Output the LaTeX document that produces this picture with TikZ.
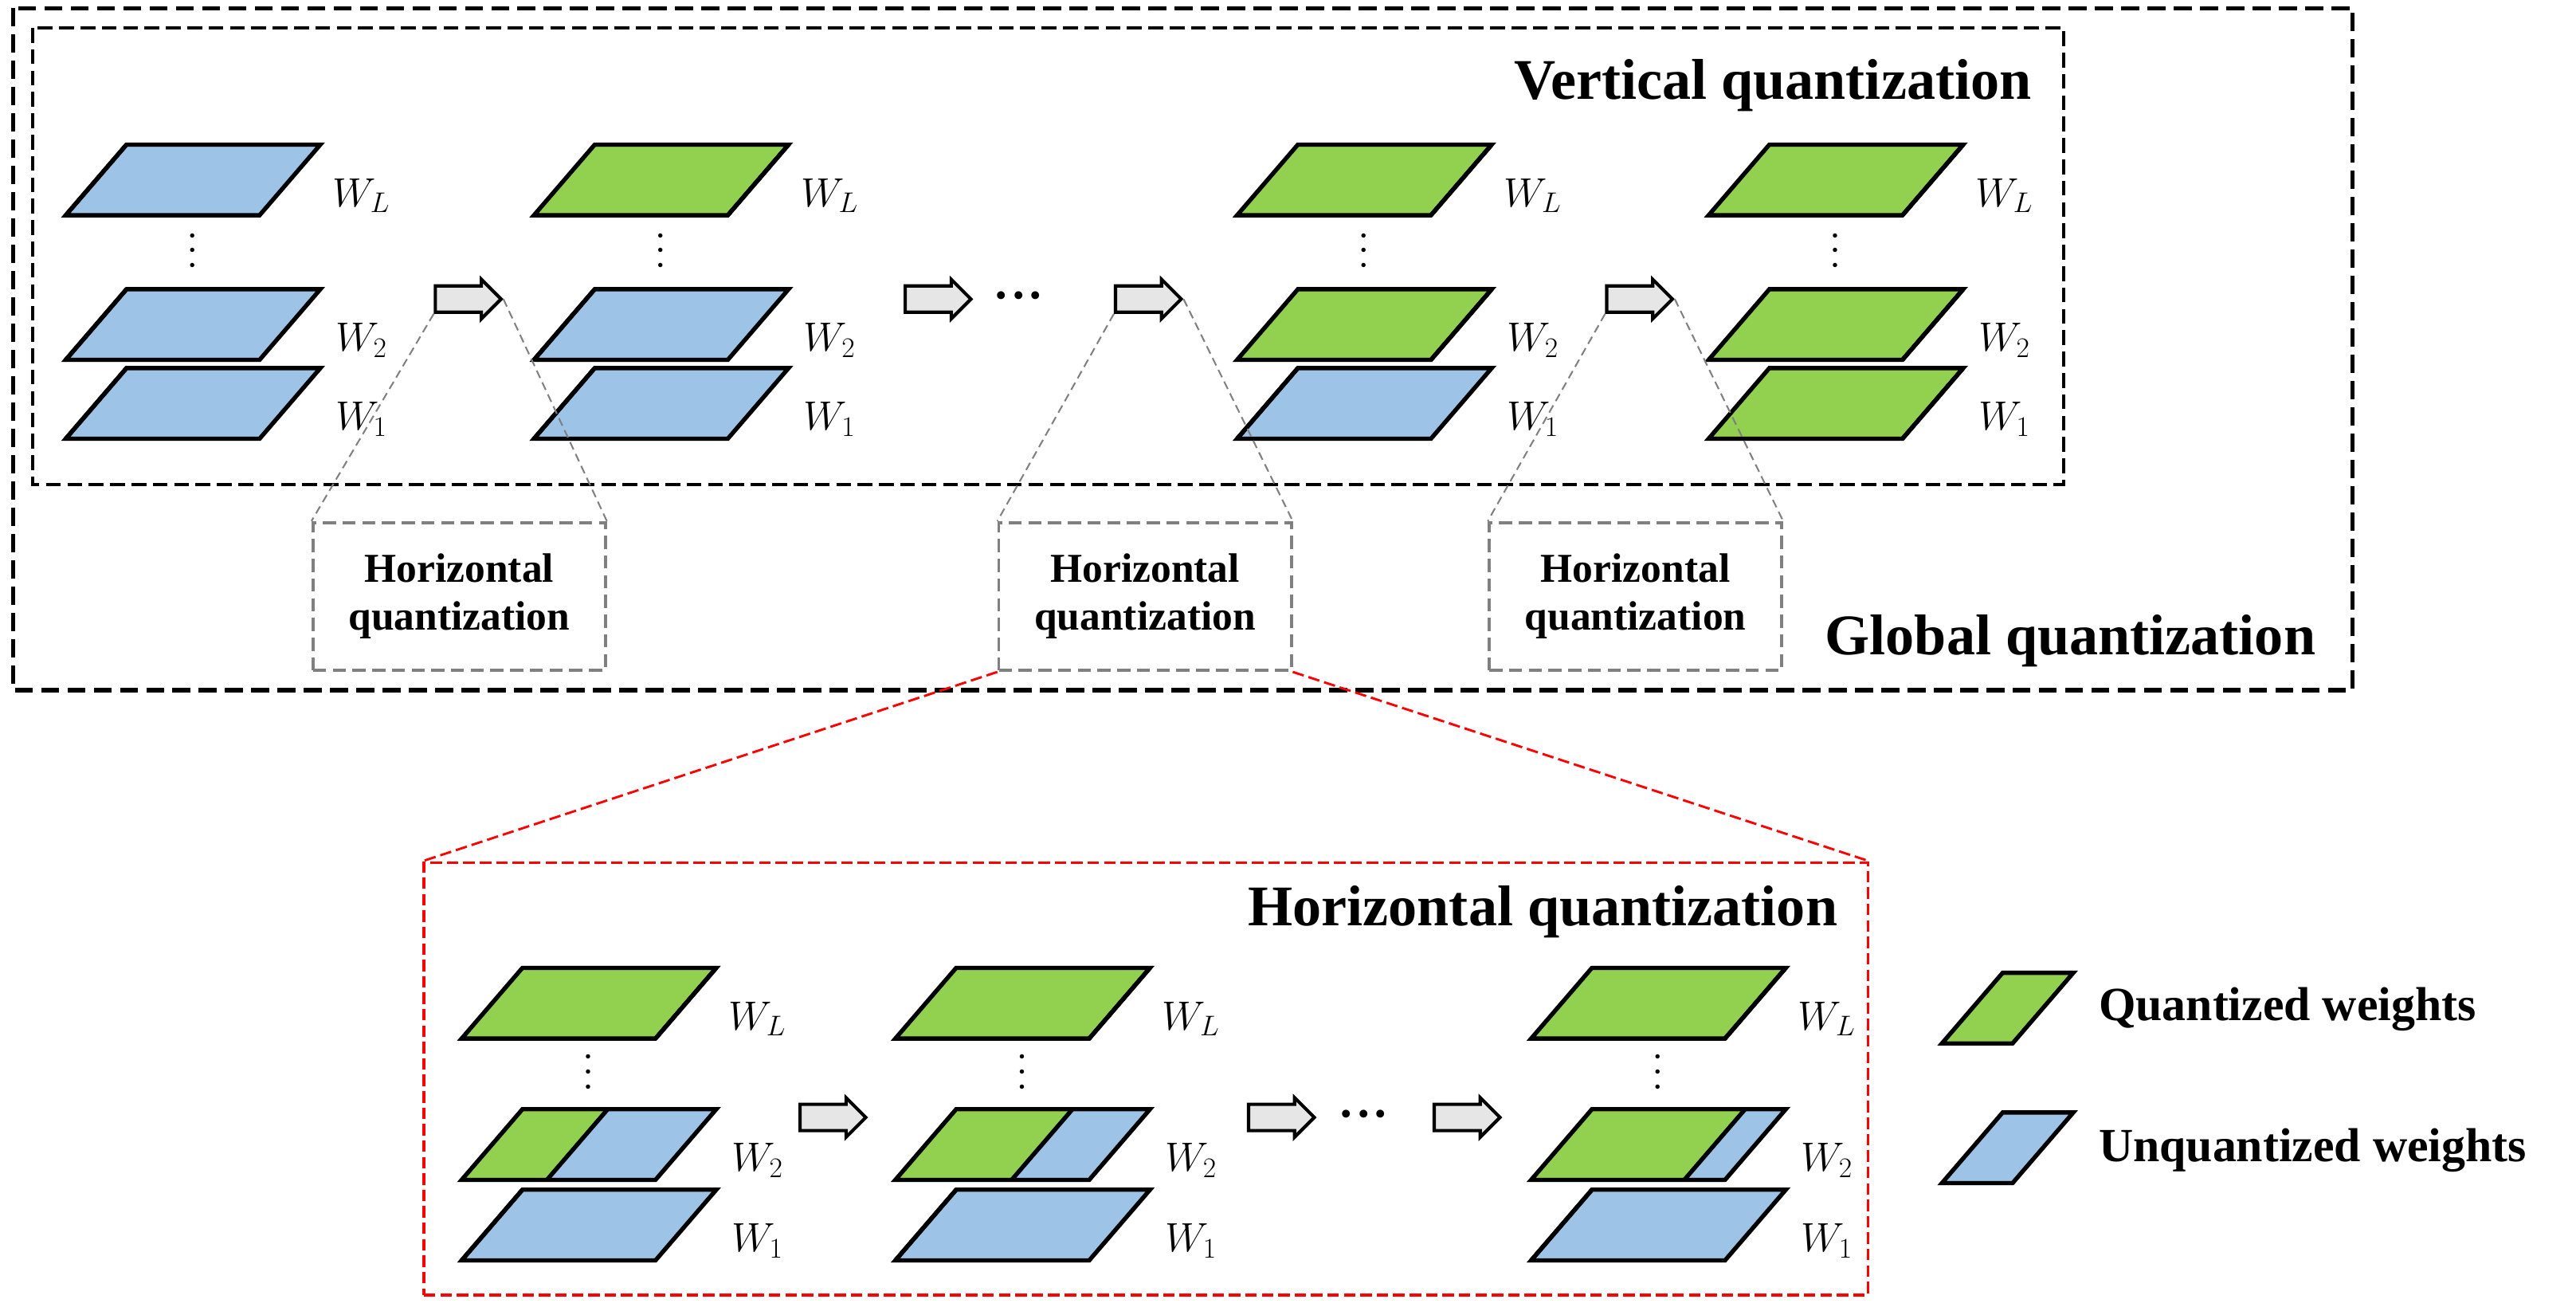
\documentclass[tikz,border=0pt]{standalone}
\usepackage{fontspec}
\setmainfont{Liberation Serif}
\usetikzlibrary{shapes.arrows}
\definecolor{qgreen}{HTML}{92D050}
\definecolor{ublue}{HTML}{9DC3E6}
\definecolor{agray}{HTML}{E6E6E6}
% one weight layer: bottom-left x, bottom y, quantized fraction
\newcommand{\wlayer}[3]{%
  \fill[qgreen] (#1,#2) -- ++(#3*118,0) -- ++(37,-43) -- ++(-#3*118,0) -- cycle;
  \fill[ublue] (#1+#3*118,#2) -- (#1+118,#2) -- ++(37,-43) -- (#1+37+#3*118,#2-43) -- cycle;
  \draw[layer] (#1+#3*118,#2) -- ++(37,-43);
  \draw[layer] (#1,#2) -- ++(118,0) -- ++(37,-43) -- ++(-118,0) -- cycle;}
% stack: x, y of W_L, W_2, W_1, fractions of W_L, W_2, W_1
\newcommand{\wstack}[7]{%
  \wlayer{#1}{#2}{#5}\wlayer{#1}{#3}{#6}\wlayer{#1}{#4}{#7}
  \node[wlab] at (#1+180,#2-12) {$W_L$};
  \node[wlab] at (#1+180,#3-12) {$W_2$};
  \node[wlab] at (#1+180,#4-12) {$W_1$};
  \node[font=\fontsize{11}{12}\selectfont,align=center,inner sep=0pt] at (#1+77,{(#2+#3-43)/2}) {\textbullet\\[-3pt]\textbullet\\[-3pt]\textbullet};}
\begin{document}
\begin{tikzpicture}[x=1pt,y=-1pt,
  layer/.style={draw=black,line width=2.6pt,line join=miter},
  wlab/.style={font=\fontsize{24}{24}\selectfont},
  blk/.style={single arrow,draw=black,fill=agray,line width=2pt,inner sep=7pt,
    single arrow head extend=4pt,minimum height=40pt},
  zoomline/.style={gray,dash pattern=on 5pt off 3pt,line width=1pt},
  hbox/.style={draw=gray,dash pattern=on 8pt off 4pt,line width=1.8pt,minimum width=178pt,minimum height=90pt,
    align=center,font=\bfseries\fontsize{25}{29}\selectfont},
  title/.style={font=\bfseries\fontsize{35}{35}\selectfont,anchor=east},
  dots/.style={font=\fontsize{20}{20}\selectfont}]
\useasboundingbox (0,0) rectangle (1568,800);
% frames
\draw[black,dash pattern=on 11pt off 5pt,line width=2.6pt] (8,5) rectangle (1432,420);
\draw[black,dash pattern=on 9pt off 4pt,line width=2pt] (20,17) rectangle (1256,295);
\node[title] at (1240,52) {Vertical quantization};
\node[title] at (1413,390) {Global quantization};
% vertical quantization stacks
\wstack{40}{131}{219}{267}{0}{0}{0}
\wstack{325}{131}{219}{267}{1}{0}{0}
\wstack{753}{131}{219}{267}{1}{1}{0}
\wstack{1040}{131}{219}{267}{1}{1}{1}
\node[blk] (v1) at (281,182) {};
\node[blk] (v2) at (567,182) {};
\node[dots] (vd) at (620,182) {\textbullet\,\textbullet\,\textbullet};
\node[blk] (v3) at (695,182) {};
\node[blk] (v4) at (994,182) {};
% horizontal quantization boxes
\node[hbox] (h1) at (279.5,363) {Horizontal\\quantization};
\node[hbox] (h2) at (697,363) {Horizontal\\quantization};
\node[hbox] (h3) at (995.5,363) {Horizontal\\quantization};
\draw[zoomline] (v1.before tail) -- (h1.north west);
\draw[zoomline] (v1.tip) -- (h1.north east);
\draw[zoomline] (v3.before tail) -- (h2.north west);
\draw[zoomline] (v3.tip) -- (h2.north east);
\draw[zoomline] (v4.before tail) -- (h3.north west);
\draw[zoomline] (v4.tip) -- (h3.north east);
% detail of horizontal quantization
\node[draw=red,dash pattern=on 7pt off 3pt,line width=1.8pt,minimum width=879pt,minimum height=263pt] (hq) at (697.5,656.5) {};
\draw[red,dash pattern=on 7pt off 3pt,line width=1.4pt] (h2.south west) -- (hq.north west);
\draw[red,dash pattern=on 7pt off 3pt,line width=1.4pt] (h2.south east) -- (hq.north east);
\node[title] at (1122,555) {Horizontal quantization};
\wstack{281}{632}{718}{767}{1}{0.44}{0}
\wstack{545}{632}{718}{767}{1}{0.6}{0}
\wstack{932}{632}{718}{767}{1}{0.79}{0}
\node[blk] (b1) at (503,680) {};
\node[blk] (b2) at (776,680) {};
\node[dots] (bd) at (830,680) {\textbullet\,\textbullet\,\textbullet};
\node[blk] (b3) at (889,680) {};
% legend
\filldraw[layer,fill=qgreen] (1182,635) -- ++(43,0) -- ++(37,-43) -- ++(-43,0) -- cycle;
\filldraw[layer,fill=ublue] (1182,720) -- ++(43,0) -- ++(37,-43) -- ++(-43,0) -- cycle;
\node[anchor=west,font=\bfseries\fontsize{29}{29}\selectfont] (lq) at (1274,614) {Quantized weights};
\node[anchor=west,font=\bfseries\fontsize{29}{29}\selectfont] (lu) at (1274,700) {Unquantized weights};
\end{tikzpicture}
\end{document}
